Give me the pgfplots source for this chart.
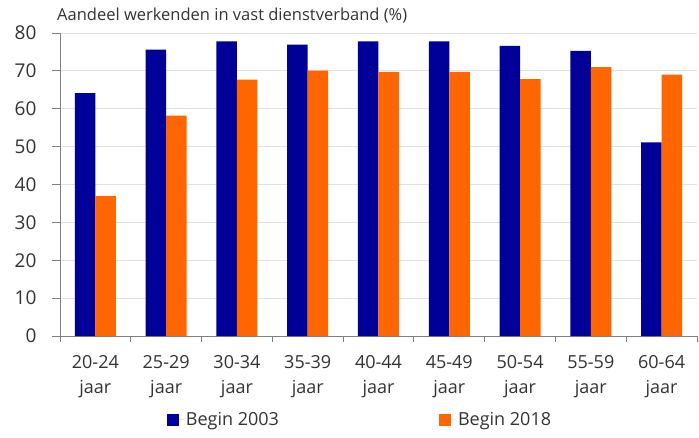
\documentclass[border=0pt]{standalone}
\usepackage{pgfplots}
\pgfplotsset{compat=1.18}
\usepackage{fontspec}
\setmainfont{Open Sans}
\definecolor{cblue}{RGB}{0,0,153}
\definecolor{corange}{RGB}{255,102,0}
\definecolor{txt}{RGB}{51,51,51}
\definecolor{axgray}{RGB}{128,128,128}
\definecolor{gridgray}{RGB}{225,225,225}
\begin{document}
\begin{tikzpicture}
\useasboundingbox (-60pt,-101pt) rectangle (639pt,336pt);
\begin{axis}[
  scale only axis,
  width=637pt, height=303pt,
  ybar=0pt, bar width=20.5pt,
  xmin=-0.5, xmax=8.5,
  ymin=0, ymax=80,
  ytick={0,10,...,80},
  xtick={0,...,8},
  xticklabels={{20-24\\jaar},{25-29\\jaar},{30-34\\jaar},{35-39\\jaar},{40-44\\jaar},{45-49\\jaar},{50-54\\jaar},{55-59\\jaar},{60-64\\jaar}},
  minor xtick={-0.5,0.5,...,8.5},
  axis x line*=bottom,
  axis y line*=left,
  axis line style={draw=axgray, line width=0.9pt},
  tick align=outside,
  major x tick style={draw=none},
  minor tick length=6pt,
  minor x tick style={draw=axgray, line width=0.9pt},
  major tick length=8pt,
  y tick style={draw=axgray, line width=0.9pt},
  ymajorgrids,
  grid style={draw=gridgray, line width=1pt},
  xticklabel style={font=\fontsize{18}{25}\selectfont, text=txt, align=center, yshift=-8pt},
  yticklabel style={font=\fontsize{19}{22}\selectfont, text=txt, xshift=-12pt},
  /pgf/number format/assume math mode=true,
  legend columns=2,
  legend style={at={(0.471,-0.277)}, anchor=center, draw=none, fill=none,
    font=\fontsize{18}{22}\selectfont, text=txt,
    /tikz/every even column/.append style={column sep=158pt}},
  legend image code/.code={\draw[#1, draw=none] (0pt,-6pt) rectangle (12pt,6pt); \path (0pt,0pt) -- (17pt,0pt);},
]
\addplot[fill=cblue, draw=none] coordinates {(0,64.1) (1,75.6) (2,77.8) (3,76.9) (4,77.8) (5,77.8) (6,76.6) (7,75.3) (8,51.1)};
\addplot[fill=corange, draw=none] coordinates {(0,36.9) (1,58.2) (2,67.7) (3,70.1) (4,69.7) (5,69.7) (6,67.8) (7,71.0) (8,69.0)};
\legend{Begin 2003, Begin 2018}
\end{axis}
\node[anchor=west, text=txt, font=\fontsize{16.5}{20}\selectfont, inner sep=0pt] at (-3pt,320pt) {Aandeel werkenden in vast dienstverband (\%)};
\end{tikzpicture}
\end{document}
